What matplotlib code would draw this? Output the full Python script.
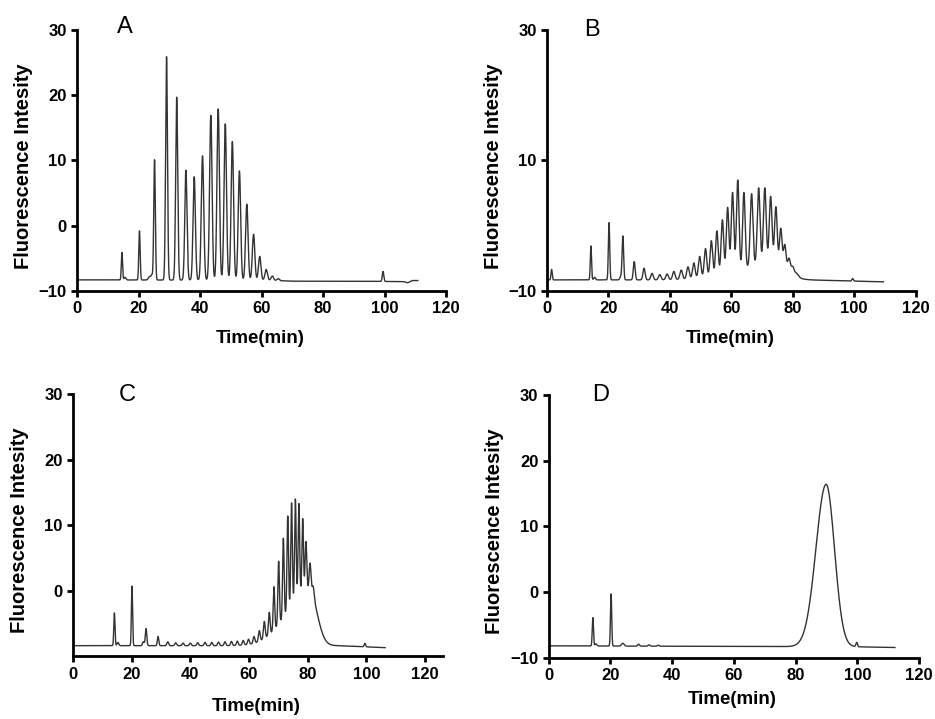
import numpy as np
import matplotlib
matplotlib.use("Agg")
import matplotlib.pyplot as plt

plt.rcParams['font.family'] = ['Liberation Sans', 'DejaVu Sans']

# ---------------- data ----------------
# Panel A
a_end = 110.8
a_base_t = [0.4, 62, 70, 106, 107.5, 109, 110.8]
a_base_v = [-8.3, -8.35, -8.5, -8.55, -8.75, -8.4, -8.4]
a_peak_t = [14.6, 15.6, 20.3, 23.6, 24.4, 25.2, 29.1, 32.4, 35.4, 38.1, 40.8, 43.5,
            45.9, 48.2, 50.5, 52.8, 55.2, 57.4, 59.4, 61.5, 63.5, 65.4, 99.5]
a_peak_top = [-4.1, -7.9, -0.8, -7.8, -7.6, 10.1, 25.9, 19.7, 8.5, 7.5, 10.7, 16.9,
              17.9, 15.6, 12.9, 8.4, 3.3, -1.3, -4.7, -6.7, -7.7, -8.1, -7.0]
a_peak_w = [0.2, 0.3, 0.22, 0.4, 0.3, 0.25, 0.3, 0.33, 0.36, 0.38, 0.4, 0.4,
            0.4, 0.4, 0.4, 0.4, 0.4, 0.4, 0.4, 0.4, 0.4, 0.4, 0.25]

# Panel B
b_end = 109.5
b_base_t = [0.5, 85, 109.5]
b_base_v = [-8.3, -8.3, -8.6]
b_hump = (75.0, 2.6, 12.0, 3.5)   # centre, height, left width, right width
b_peak_t = [1.5, 14.3, 15.5, 20.2, 24.0, 24.7, 28.4, 31.6, 34.2, 36.7, 39.1, 41.3,
            43.7, 45.9, 47.8, 49.7, 51.6, 53.5, 55.3, 57.1, 58.8, 60.4, 62.1,
            64.1, 66.6, 68.9, 70.9, 72.8, 74.5, 76.1, 77.4, 78.8, 80.0, 81.3, 99.5]
b_peak_top = [-6.7, -3.1, -7.9, 0.47, -7.8, -1.6, -5.5, -6.5, -7.3, -7.5, -7.4, -7.0,
              -6.8, -6.3, -5.7, -4.7, -3.5, -2.3, -0.8, 0.9, 2.8, 5.1, 7.0,
              5.1, 4.9, 5.8, 5.8, 4.5, 2.9, -0.4, -2.9, -5.0, -6.3, -7.3, -8.1]
b_peak_w = [0.2, 0.2, 0.3, 0.22, 0.3, 0.25, 0.3, 0.35, 0.38, 0.4, 0.4, 0.4,
            0.42, 0.42, 0.42, 0.42, 0.42, 0.42, 0.42, 0.42, 0.42, 0.42, 0.42,
            0.42, 0.45, 0.45, 0.45, 0.45, 0.42, 0.4, 0.4, 0.42, 0.45, 0.6, 0.25]

# Panel C
c_end = 106.4
c_base_t = [0.5, 90, 106.4]
c_base_v = [-8.4, -8.4, -8.7]
c_hump = (80.5, 8.6, 7.5, 2.6)
c_peak_t = [14.1, 15.3, 20.1, 24.0, 24.9, 29.0, 32.3, 35.0, 37.5, 40.0, 42.5, 45.0,
            47.3, 49.6, 51.8, 54.0, 56.0, 58.0, 59.8, 61.7, 63.5, 65.2, 66.9,
            68.5, 70.1, 71.7, 73.2, 74.5, 75.8, 77.0, 78.3, 79.4, 80.8, 81.9, 99.5]
c_peak_top = [-3.4, -7.9, 0.7, -7.8, -5.8, -7.0, -7.8, -7.95, -8.0, -8.0, -7.95, -7.9,
              -7.9, -7.85, -7.8, -7.75, -7.7, -7.6, -7.4, -7.0, -6.1, -4.7, -3.3,
              0.6, 4.5, 8.0, 11.4, 13.4, 14.0, 13.3, 11.0, 7.5, 4.2, 0.6, -8.05]
c_peak_w = [0.2, 0.3, 0.2, 0.3, 0.25, 0.25, 0.3, 0.3, 0.3, 0.3, 0.3, 0.3,
            0.3, 0.3, 0.3, 0.3, 0.3, 0.3, 0.3, 0.3, 0.3, 0.3, 0.28,
            0.26, 0.26, 0.26, 0.26, 0.26, 0.26, 0.26, 0.26, 0.28, 0.3, 0.35, 0.25]

# Panel D
d_end = 112.2
d_base_t = [0.5, 100, 112.2]
d_base_v = [-8.2, -8.35, -8.45]
d_main = (89.9, 16.4, 3.3, 2.7)   # centre, top, left width, right width
d_peak_t = [14.3, 15.3, 20.2, 24.0, 29.1, 32.5, 35.5, 99.8]
d_peak_top = [-3.9, -7.9, -0.3, -7.8, -7.95, -8.05, -8.1, -7.7]
d_peak_w = [0.2, 0.3, 0.2, 0.4, 0.3, 0.3, 0.3, 0.25]

x_ticks = [0, 20, 40, 60, 80, 100, 120]
panel_labels = ['A', 'B', 'C', 'D']
xlabel = 'Time(min)'
ylabel = 'Fluorescence Intesity'


def two_sided(t, c, h, wl, wr):
    w = np.where(t < c, wl, wr)
    return h * np.exp(-0.5 * ((t - c) / w) ** 2)


def trace(end, base_t, base_v, pk_t, pk_top, pk_w, hump=None):
    t = np.linspace(base_t[0], end, 12000)
    base = np.interp(t, base_t, base_v)
    y = base.copy()
    hump_at = lambda x: 0.0
    if hump is not None:
        c, h, wl, wr = hump
        y = y + two_sided(t, c, h, wl, wr)
        hump_at = lambda x: two_sided(np.array([x]), c, h, wl, wr)[0]
    w = np.broadcast_to(np.asarray(pk_w, dtype=float), (len(pk_t),))
    for pt, top, sw in zip(pk_t, pk_top, w):
        amp = max(top - np.interp(pt, base_t, base_v) - hump_at(pt), 0.0)
        y = y + amp * np.exp(-0.5 * ((t - pt) / sw) ** 2)
    return t, y


fig = plt.figure(figsize=(9.35, 7.19), dpi=100)

rects = [
    [0.0824, 0.5953, 0.3947, 0.3630],
    [0.5850, 0.5953, 0.3943, 0.3630],
    [0.0781, 0.0874, 0.3953, 0.3643],
    [0.5869, 0.0853, 0.3960, 0.3654],
]
yticks = [[-10, 0, 10, 20, 30], [-10, 10, 30], [0, 10, 20, 30], [-10, 0, 10, 20, 30]]
xlims = [(0, 120), (0, 120), (0, 126), (0, 120)]
label_pos = [(0.13, 1.011), (0.121, 1.0), (0.147, 0.997), (0.139, 1.0)]
xlab_y = [-0.15, -0.15, -0.16, -0.125]

traces = [
    trace(a_end, a_base_t, a_base_v, a_peak_t, a_peak_top, a_peak_w),
    trace(b_end, b_base_t, b_base_v, b_peak_t, b_peak_top, b_peak_w, hump=b_hump),
    trace(c_end, c_base_t, c_base_v, c_peak_t, c_peak_top, c_peak_w, hump=c_hump),
]
td, yd = trace(d_end, d_base_t, d_base_v, d_peak_t, d_peak_top, d_peak_w)
c, top, wl, wr = d_main
yd = yd + two_sided(td, c, top - np.interp(c, d_base_t, d_base_v), wl, wr)
traces.append((td, yd))

for i in range(4):
    ax = fig.add_axes(rects[i])
    t, y = traces[i]
    ax.plot(t, y, color='#333333', lw=1.0)
    ax.set_xlim(*xlims[i])
    ax.set_ylim(-10, 30)
    ax.set_xticks(x_ticks)
    ax.set_yticks(yticks[i])
    for s in ['top', 'right']:
        ax.spines[s].set_visible(False)
    for s in ['left', 'bottom']:
        ax.spines[s].set_linewidth(2.0)
    ax.tick_params(direction='out', length=4.5, width=2.0, pad=3, labelsize=12)
    for lab in ax.get_xticklabels() + ax.get_yticklabels():
        lab.set_fontweight('bold')
    ax.set_xlabel(xlabel, fontsize=13.5, fontweight='bold', va='top')
    ax.xaxis.set_label_coords(0.496, xlab_y[i])
    ax.set_ylabel(ylabel, fontsize=14.5, fontweight='bold')
    ax.yaxis.set_label_coords(-0.12, 0.48)
    ax.text(label_pos[i][0], label_pos[i][1], panel_labels[i], transform=ax.transAxes,
            fontsize=17, ha='center', va='center', clip_on=False)

fig.savefig('out.png', dpi=100)
